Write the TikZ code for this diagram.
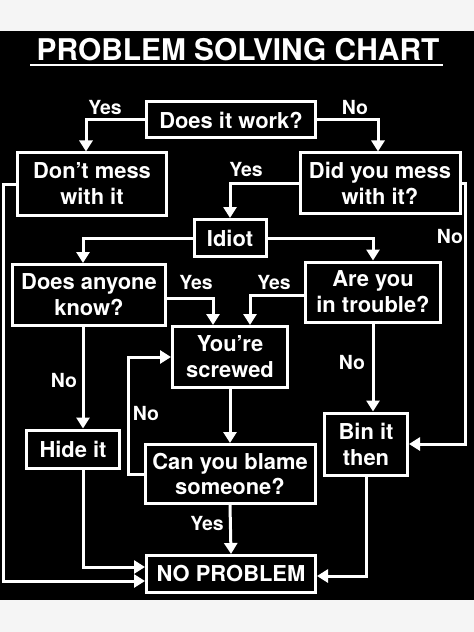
\documentclass[tikz,border=0pt]{standalone}
\usepackage{fontspec}
\setmainfont{TeX Gyre Heros}
\usetikzlibrary{arrows.meta,calc,positioning}
\definecolor{PaperGrey}{RGB}{245,245,245}

\begin{document}
\begin{tikzpicture}[x=1bp,y=-1bp,>={Triangle[length=11bp,width=13bp]},
    box/.style={draw=white, line width=3bp, text=white, align=center, inner sep=0pt,
      font=\fontsize{22}{26}\selectfont\bfseries},
    flow/.style={draw=white, line width=3bp, ->},
    lbl/.style={text=white, inner sep=0pt, font=\fontsize{19.5}{22}\selectfont\bfseries}]

    % background
    \fill[PaperGrey] (0,0) rectangle (474,632);
    \useasboundingbox (0,0) rectangle (474,632);
    \fill[black] (0,31) rectangle (474,600);

    \node[text=white, inner sep=0pt, font=\fontsize{30}{34}\selectfont\bfseries] (title) at (238,50) {PROBLEM SOLVING CHART};
    \draw[white, line width=2.5bp] (30,65) -- (443,65);

    \node[box, minimum width=169bp, minimum height=36bp] (work) at (231,120) {Does it work?};
    \node[box, minimum width=148bp, minimum height=62bp] (dont) at (92,184) {Don’t mess\\with it};
    \node[box, minimum width=160bp, minimum height=60bp] (mess) at (380,183) {Did you mess\\with it?};
    \node[box, minimum width=72bp, minimum height=37bp] (idiot) at (230,238) {Idiot};
    \node[box, minimum width=153bp, minimum height=61bp] (anyone) at (89,295) {Does anyone\\know?};
    \node[box, minimum width=135bp, minimum height=60bp] (trouble) at (373,292) {Are you\\in trouble?};
    \node[box, minimum width=115bp, minimum height=61bp] (screwed) at (230,357) {You’re\\screwed};
    \node[box, minimum width=93bp, minimum height=38bp] (hide) at (73,449) {Hide it};
    \node[box, minimum width=83bp, minimum height=62bp] (bin) at (366,444) {Bin it\\then};
    \node[box, minimum width=170bp, minimum height=59bp] (blame) at (230,474) {Can you blame\\someone?};
    \node[box, minimum width=169bp, minimum height=37bp] (noprob) at (231,574) {NO PROBLEM};

    % connectors
    \draw[flow] (work.west) -| ($(dont.north)+(-6,0)$);
    \draw[flow] (work.east) -| ($(mess.north)+(-2,0)$);
    \draw[flow] (mess.west) -| (idiot.north);
    \draw[flow] (mess.east) -- ++(4,0) |- (bin.east);
    \draw[flow] (dont.west) -- ++(-13,0) |- ($(noprob.west)+(0,7)$);
    \draw[flow] (idiot.west) -| ($(anyone.north)+(-6,0)$);
    \draw[flow] (idiot.east) -| (trouble.north);
    \draw[flow] ($(anyone.east)+(0,3)$) -| ($(screwed.north)+(-17,0)$);
    \draw[flow] ($(trouble.west)+(0,3)$) -| ($(screwed.north)+(20,0)$);
    \coordinate (a1) at ($(anyone.south)+(-6,0)$);
    \draw[flow] (a1) -- (a1 |- hide.north);
    \draw[flow] (a1 |- hide.south) |- ($(noprob.west)+(0,-7)$);
    \draw[flow] (screwed.south) -- (blame.north);
    \draw[flow] (blame.west) -- ++(-15,0) |- (screwed.west);
    \draw[flow] (blame.south) -- (noprob.north);
    \draw[flow] (trouble.south) -- (trouble.south |- bin.north);
    \draw[flow] (bin.south) |- ($(noprob.east)+(0,2)$);

    % labels
    \node[lbl] (yes1) at (105,108) {Yes};
    \node[lbl] (no1) at (355,108) {No};
    \node[lbl] (yes2) at (246,170) {Yes};
    \node[lbl] (no2) at (450,237) {No};
    \node[lbl] (yes3) at (196,283) {Yes};
    \node[lbl] (yes4) at (274,283) {Yes};
    \node[lbl] (no3) at (64,381) {No};
    \node[lbl] (no4) at (352,363) {No};
    \node[lbl] (no5) at (146,414) {No};
    \node[lbl] (yes5) at (207,523) {Yes};
\end{tikzpicture}
\end{document}
